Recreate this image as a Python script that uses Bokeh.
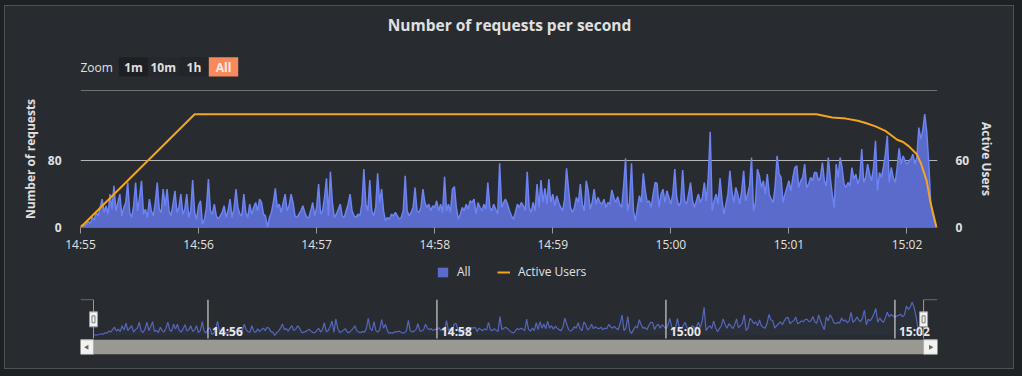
from datetime import datetime, timedelta
from bokeh.plotting import figure
from bokeh.models import (Range1d, LinearAxis, DatetimeAxis, FixedTicker, DatetimeTickFormatter,
                          Legend, LegendItem, Grid)
from bokeh.layouts import column
from bokeh.embed import file_html
from bokeh.resources import INLINE
from bokeh.core.properties import value

# ---------------- data ----------------
TITLE = "Number of requests per second"
START = "14:55:00"
# requests per second, one value per second from 14:55:00
requests_all = [
    2, 3, 2, 4, 7, 5, 12, 9, 18, 14,
    24, 34, 18, 26, 16, 40, 22, 50, 20, 30,
    40, 14, 24, 30, 54, 18, 12, 26, 54, 20,
    36, 56, 16, 22, 12, 34, 20, 14, 30, 54,
    22, 18, 46, 26, 46, 20, 14, 28, 44, 18,
    24, 40, 16, 22, 40, 12, 20, 57, 18, 10,
    26, 32, 4, 10, 24, 58, 20, 16, 28, 14,
    10, 14, 18, 26, 12, 20, 34, 12, 22, 46,
    24, 16, 14, 40, 18, 12, 28, 16, 24, 30,
    20, 34, 30, 16, 14, 0, 12, 18, 30, 47,
    24, 28, 18, 30, 40, 20, 26, 40, 30, 14,
    12, 16, 20, 26, 18, 12, 12, 20, 30, 14,
    24, 52, 16, 20, 36, 59, 14, 67, 30, 12,
    16, 22, 28, 14, 12, 20, 28, 40, 20, 14,
    12, 16, 14, 28, 70, 28, 20, 57, 20, 14,
    24, 65, 30, 46, 20, 8, 12, 10, 16, 14,
    18, 14, 10, 12, 20, 62, 20, 14, 18, 24,
    48, 20, 18, 24, 46, 30, 24, 28, 20, 26,
    24, 32, 20, 28, 18, 61, 20, 28, 18, 46,
    49, 24, 10, 16, 24, 20, 28, 22, 32, 30,
    34, 16, 30, 24, 20, 28, 22, 54, 24, 20,
    28, 22, 16, 77, 24, 30, 34, 28, 20, 14,
    10, 18, 28, 24, 30, 26, 20, 67, 24, 18,
    30, 20, 52, 24, 57, 30, 47, 28, 58, 30,
    40, 26, 38, 30, 24, 20, 34, 71, 46, 24,
    18, 24, 36, 30, 52, 28, 20, 56, 44, 22,
    30, 46, 28, 36, 30, 28, 34, 24, 30, 28,
    45, 36, 30, 37, 28, 24, 50, 83, 20, 30,
    77, 20, 8, 24, 38, 30, 65, 44, 30, 32,
    24, 40, 54, 53, 24, 40, 46, 30, 44, 36,
    28, 40, 70, 36, 26, 30, 69, 32, 28, 40,
    54, 32, 24, 32, 40, 30, 36, 54, 32, 60,
    115, 20, 32, 40, 28, 59, 32, 16, 28, 40,
    68, 44, 30, 48, 40, 28, 44, 68, 32, 40,
    50, 84, 20, 30, 70, 62, 48, 56, 40, 64,
    40, 34, 30, 50, 86, 64, 60, 30, 40, 48,
    56, 44, 60, 72, 74, 48, 56, 60, 76, 48,
    52, 60, 56, 66, 66, 56, 60, 78, 56, 50,
    84, 60, 40, 24, 76, 60, 84, 72, 52, 48,
    54, 50, 72, 58, 64, 52, 60, 94, 54, 60,
    76, 64, 56, 72, 104, 44, 66, 60, 72, 88,
    110, 54, 72, 60, 54, 72, 95, 76, 86, 80,
    76, 80, 82, 88, 76, 84, 120, 106, 116, 136,
    116, 80, 32, 16, 8, 0,
]
# active users: seconds after start and value
users_seconds = [0, 58, 374, 382, 389, 395, 399, 404, 409, 412, 415, 418, 421, 425, 427, 430, 432, 435]
users_values = [0, 102, 102, 99, 98, 96, 94, 91, 87, 83, 79, 77, 73, 66, 58, 42, 22, 0]

x_tick_labels = ["14:55", "14:56", "14:57", "14:58", "14:59", "15:00", "15:01", "15:02"]
nav_tick_labels = ["14:56", "14:58", "15:00", "15:02"]
left_ticks = [0, 80]
right_ticks = [0, 60]
zoom_buttons = ["1m", "10m", "1h", "All"]
series_names = ["All", "Active Users"]

# ---------------- style ----------------
FONT = "Open Sans"
PANEL = "#282c30"
OUTER = "#1e2124"
BORDER = "#4e5256"
TEXT = "#e0e0e0"
GRID = "#b4b4b4"
AREA_FILL = "#5a6bcc"
AREA_LINE = "#6c83f0"
ORANGE = "#f5a41f"
NAV_LINE = "#5666bb"
ML, MR = 75, 76          # left / right borders of every figure (frame x 80..937 on the page)

DAY = datetime(2024, 1, 1)


def at(hms):
    parts = [int(v) for v in hms.split(":")]
    while len(parts) < 3:
        parts.append(0)
    return DAY + timedelta(hours=parts[0], minutes=parts[1], seconds=parts[2])


def ms(dt):
    return (dt - datetime(1970, 1, 1)).total_seconds() * 1000.0


def drop_grids(fig):
    fig.center = [r for r in fig.center if not isinstance(r, Grid)]


def dark(fig):
    drop_grids(fig)
    fig.outline_line_color = None
    fig.background_fill_color = PANEL
    fig.border_fill_color = PANEL


t0 = at(START)
times = [t0 + timedelta(seconds=i) for i in range(len(requests_all))]
users_times = [t0 + timedelta(seconds=s) for s in users_seconds]
t_end = times[-1]

fmt = DatetimeTickFormatter(milliseconds="%H:%M", seconds="%H:%M", minsec="%H:%M",
                            minutes="%H:%M", hourmin="%H:%M", hours="%H:%M")
fig_styles = {"background-color": PANEL}

# ---------------- header (title + range selector) ----------------
HW, HH = 1008, 84
hdr = figure(width=HW, height=HH, x_range=Range1d(ML, HW - MR), y_range=Range1d(HH, 0),
             x_axis_location=None, y_axis_location=None, toolbar_location=None,
             output_backend="svg", min_border_left=ML, min_border_right=MR,
             min_border_top=0, min_border_bottom=0, styles=fig_styles)
dark(hdr)

hdr.text(x=[504], y=[18], text=[TITLE], text_align="center", text_baseline="middle",
         text_font=value(FONT), text_font_style="bold", text_font_size="15.5px", text_color=TEXT)
hdr.text(x=[75], y=[60.5], text=["Zoom"], text_align="left", text_baseline="middle",
         text_font=value(FONT), text_font_size="12px", text_color=TEXT)
btn_left = [113.3, 142.7, 173.5, 203.3]
btn_right = [142.7, 172.7, 203.3, 232.7]
btn_fill = ["#1d2023", "#25282c", "#222529", "#f7895c"]
btn_text = [TEXT, TEXT, TEXT, "#fbeee8"]
hdr.quad(left=btn_left, right=btn_right, top=[50.7] * 4, bottom=[70] * 4,
         fill_color=btn_fill, line_color=None)
hdr.text(x=[(a + b) / 2 for a, b in zip(btn_left, btn_right)], y=[60.5] * 4, text=zoom_buttons,
         text_align="center", text_baseline="middle", text_font=value(FONT),
         text_font_style="bold", text_font_size="12px", text_color=btn_text)

# ---------------- main chart ----------------
YMAX = 164.4
UMAX = YMAX * 60 / 80
p = figure(width=1008, height=165,
           x_range=Range1d(t0, t0 + timedelta(seconds=435.5)), y_range=Range1d(0, YMAX),
           x_axis_type=None, y_axis_location=None, toolbar_location=None, output_backend="svg",
           min_border_left=ML, min_border_right=MR, min_border_top=0, min_border_bottom=27,
           styles=fig_styles)
dark(p)
p.extra_y_ranges = {"users": Range1d(0, UMAX)}

p.add_layout(Grid(dimension=1, ticker=FixedTicker(ticks=[left_ticks[1], YMAX - 0.4]),
                  grid_line_color=GRID, grid_line_width=1))

yl = LinearAxis(ticker=FixedTicker(ticks=left_ticks), axis_label="Number of requests")
yr = LinearAxis(y_range_name="users", ticker=FixedTicker(ticks=right_ticks), axis_label="Active Users")
for ax in (yl, yr):
    ax.axis_line_color = None
    ax.major_tick_line_color = None
    ax.minor_tick_line_color = None
    ax.major_label_text_color = TEXT
    ax.major_label_text_font = FONT
    ax.major_label_text_font_style = "bold"
    ax.major_label_text_font_size = "12px"
    ax.axis_label_text_color = TEXT
    ax.axis_label_text_font = FONT
    ax.axis_label_text_font_style = "bold"
    ax.axis_label_text_font_size = "12px"
yl.major_label_standoff = 13
yl.axis_label_standoff = 6
yr.major_label_standoff = 12
yr.axis_label_standoff = 6
p.add_layout(yl, "left")
p.add_layout(yr, "right")

xa = DatetimeAxis(ticker=FixedTicker(ticks=[ms(at(s)) for s in x_tick_labels]), formatter=fmt)
xa.axis_line_color = "#6a6d70"
xa.major_tick_line_color = "#9a9a9a"
xa.major_tick_out = 6
xa.major_tick_in = 0
xa.minor_tick_line_color = None
xa.major_label_standoff = 2
xa.major_label_text_color = TEXT
xa.major_label_text_font = FONT
xa.major_label_text_font_size = "12px"
p.add_layout(xa, "below")

area_style = dict(fill_color=AREA_FILL, fill_alpha=1.0)
users_style = dict(line_color=ORANGE, line_width=2)
p.varea(x=times, y1=0, y2=requests_all, **area_style)
p.line(times, requests_all, line_color=AREA_LINE, line_width=1.5)
p.line(users_times, users_values, y_range_name="users", **users_style)

# ---------------- legend strip ----------------
lg = figure(width=1008, height=30, x_range=Range1d(t0, t0 + timedelta(seconds=435.5)),
            y_range=Range1d(0, YMAX), x_axis_location=None, y_axis_location=None,
            toolbar_location=None, output_backend="svg",
            min_border_left=ML, min_border_right=MR, min_border_top=0, min_border_bottom=0,
            styles=fig_styles)
dark(lg)
lg_area = lg.varea(x=times, y1=0, y2=requests_all, **area_style)
lg_users = lg.line(users_times, users_values, **users_style)
lg_area.visible = False
lg_users.visible = False
leg = Legend(items=[LegendItem(label=series_names[0], renderers=[lg_area]),
                    LegendItem(label=series_names[1], renderers=[lg_users])],
             orientation="horizontal", location=(354, 3))
leg.background_fill_alpha = 0
leg.border_line_alpha = 0
leg.inactive_fill_alpha = 0
leg.label_text_color = TEXT
leg.label_text_font = FONT
leg.label_text_font_size = "12px"
leg.glyph_width = 13
leg.glyph_height = 12
leg.label_standoff = 8
leg.spacing = 20
leg.padding = 2
leg.margin = 0
lg.add_layout(leg, "center")

# ---------------- navigator ----------------
PAD_L, PAD_R = 6.8, 7.3
NMIN, NMAX = -77.5, 147.0
NAV_BOTTOM = -12.0     # bottom of navigator series area
SB_TOP = -17.5         # top of scrollbar
nav = figure(width=1008, height=83,
             x_range=Range1d(t0 - timedelta(seconds=PAD_L), t_end + timedelta(seconds=PAD_R)),
             y_range=Range1d(NMIN, NMAX), x_axis_type=None, y_axis_location=None,
             toolbar_location=None, output_backend="svg",
             min_border_left=ML, min_border_right=MR - 1, min_border_top=14, min_border_bottom=14,
             styles=fig_styles)
dark(nav)

nav.varea(x=times, y1=0, y2=requests_all, fill_color=NAV_LINE, fill_alpha=0.06)
nav.line(times, requests_all, line_color=NAV_LINE, line_width=1.2)

nav_ticks = [at(s) for s in nav_tick_labels]
nav.segment(x0=nav_ticks, x1=nav_ticks, y0=[NAV_BOTTOM] * len(nav_ticks), y1=[NMAX] * len(nav_ticks),
            line_color="#f0f0f0", line_width=1)
nav.text(x=nav_ticks, y=[16] * len(nav_ticks), text=nav_tick_labels, x_offset=4,
         text_align="left", text_baseline="middle", text_font=value(FONT), text_font_style="bold",
         text_font_size="12px", text_color="#e8e8e8")

# scrollbar
x_lo = t0 - timedelta(seconds=PAD_L)
x_hi = t_end + timedelta(seconds=PAD_R)
nav.quad(left=[x_lo], right=[x_hi], bottom=[NMIN], top=[SB_TOP], fill_color="#9a9893", line_color=None)
nav.quad(left=[x_lo, t_end], right=[t0, x_hi], bottom=[NMIN + 0.5] * 2, top=[SB_TOP] * 2,
         fill_color="#f2f2f2", line_color="#b0b0b0", line_width=1)
sb_mid = (NMIN + SB_TOP) / 2
nav.scatter(x=[x_lo + (t0 - x_lo) / 2, t_end + (x_hi - t_end) / 2], y=[sb_mid, sb_mid],
            marker="triangle", angle=[1.5708, -1.5708], size=5, fill_color="#666666", line_color=None)

# outline and handles
top_line = NMAX - 0.5
nav.line(x=[x_lo, t0, t0], y=[top_line, top_line, NAV_BOTTOM], line_color="#9a9a9a", line_width=1)
nav.line(x=[x_hi, t_end, t_end], y=[top_line, top_line, NAV_BOTTOM], line_color="#9a9a9a", line_width=1)
nav.rect(x=[t0, t_end], y=[66, 66], width=8, height=15, width_units="screen", height_units="screen",
         fill_color="#f2f2f2", line_color="#9a9a9a", line_width=1)
nav.rect(x=[t0, t_end], y=[66, 66], width=3, height=7, width_units="screen", height_units="screen",
         fill_color=None, line_color="#7a7a7a", line_width=1)

inner = column(hdr, p, lg, nav, margin=(5, 8, 7, 4), styles={"background-color": BORDER})
for f, m in ((hdr, (1, 1, 0, 1)), (p, (0, 1, 0, 1)), (lg, (0, 1, 0, 1)), (nav, (0, 1, 1, 1))):
    f.margin = m
root = column(inner, width=1022, height=376, styles={"background-color": OUTER})

open("out.html", "w").write(file_html(root, INLINE))
